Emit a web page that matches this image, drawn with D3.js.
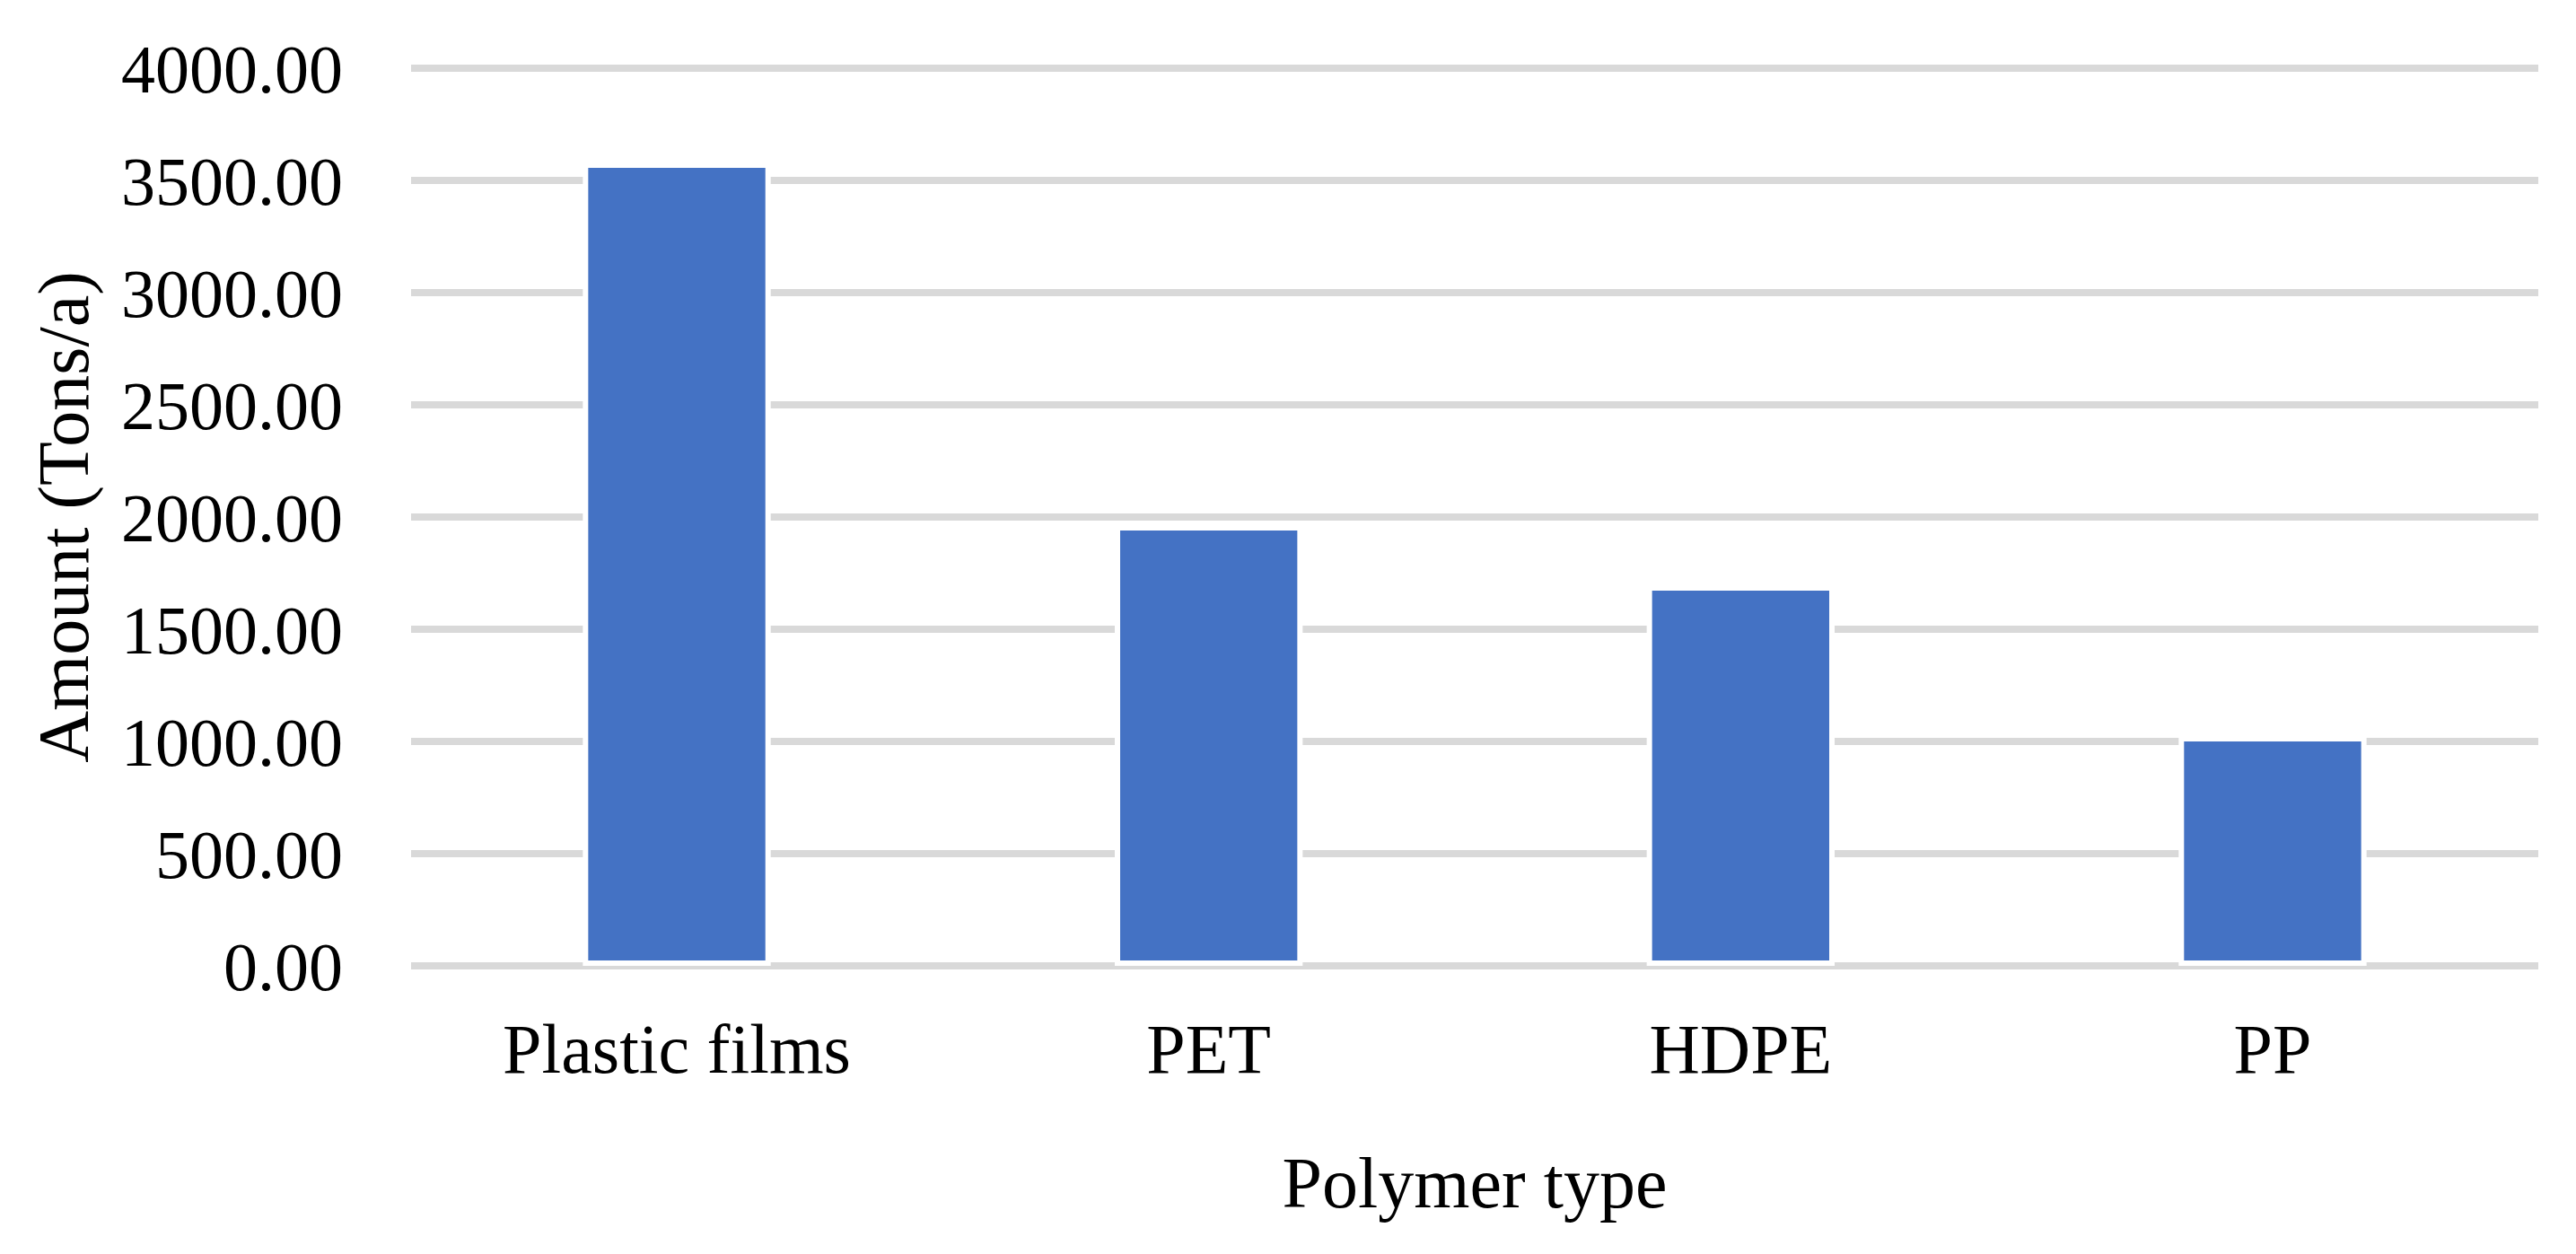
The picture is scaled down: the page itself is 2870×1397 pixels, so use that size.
<!DOCTYPE html>
<html><head><meta charset="utf-8">
<script src="https://cdn.jsdelivr.net/npm/d3@7"></script>
<style>body{margin:0;background:#fff}text{font-family:"Liberation Serif","DejaVu Serif",serif;fill:#000}</style>
</head><body>
<svg id="svg1" width="2870" height="1397"></svg>
<script>
var categories = ['Plastic films', 'PET', 'HDPE', 'PP'];
var amounts = [3556, 1940, 1672, 1000];
var yTicks = [0, 500, 1000, 1500, 2000, 2500, 3000, 3500, 4000];

var svg = d3.select('svg');
var plotLeft = 458, plotRight = 2828, plotTop = 76, plotBottom = 1076;

var x = d3.scaleBand().domain(categories).range([plotLeft, plotRight]).paddingInner(0.667).paddingOuter(0.333);
var y = d3.scaleLinear().domain([0, 4000]).range([plotBottom, plotTop]);

// gridlines
svg.append('g').selectAll('line').data(yTicks).enter().append('line')
    .attr('x1', plotLeft).attr('x2', plotRight)
    .attr('y1', function(d){ return y(d); }).attr('y2', function(d){ return y(d); })
    .attr('stroke', '#d9d9d9').attr('stroke-width', 8);

// bars
svg.append('g').selectAll('rect').data(amounts).enter().append('rect')
    .attr('x', function(d, i){ return x(categories[i]); })
    .attr('width', x.bandwidth())
    .attr('y', function(d){ return y(d); })
    .attr('height', function(d){ return y(0) - y(d) - 6; })
    .attr('fill', '#4472c4')
    .attr('stroke', '#fff').attr('stroke-width', 12).attr('paint-order', 'stroke');

// y axis labels
var yAxis = d3.axisLeft(y).tickValues(yTicks).tickSize(0).tickPadding(0).tickFormat(d3.format('.2f'));
var ya = svg.append('g').attr('transform', 'translate(382,0)').call(yAxis);
ya.select('.domain').remove();
ya.selectAll('text').style('font-size', '76px').attr('font-family', null).attr('fill', '#000').attr('dy', '0.35em');

// x axis labels
var xAxis = d3.axisBottom(x).tickSize(0).tickPadding(0);
var xa = svg.append('g').attr('transform', 'translate(0,1140)').call(xAxis);
xa.select('.domain').remove();
xa.selectAll('text').style('font-size', '78px').attr('font-family', null).attr('fill', '#000').attr('dy', '0.71em');

svg.append('text').attr('x', (plotLeft + plotRight) / 2).attr('y', 1345)
    .attr('text-anchor', 'middle').style('font-size', '80px').text('Polymer type');
svg.append('text').attr('transform', 'translate(98,' + (plotTop + plotBottom) / 2 + ') rotate(-90)')
    .attr('text-anchor', 'middle').style('font-size', '80px').text('Amount (Tons/a)');
</script>
</body></html>
